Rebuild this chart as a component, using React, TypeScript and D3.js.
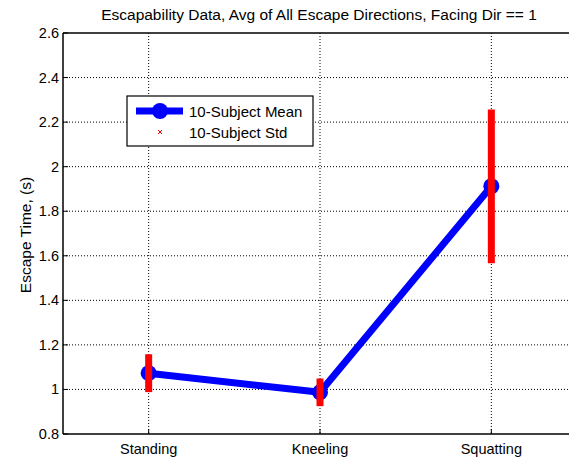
import React from "react";
import * as d3 from "d3";

const categories = ["Standing", "Kneeling", "Squatting"];
const meanValues = [1.073, 0.987, 1.912];
const stdValues = [0.085, 0.062, 0.345];
const yTicks = [0.8, 1, 1.2, 1.4, 1.6, 1.8, 2, 2.2, 2.4, 2.6];
const titleText = "Escapability Data, Avg of All Escape Directions, Facing Dir == 1";
const yLabelText = "Escape Time, (s)";
const legendLabels = ["10-Subject Mean", "10-Subject Std"];

export default function App() {
  const W = 569, H = 457;
  const left = 63, right = 577, top = 33, bottom = 434;
  const x = d3.scaleLinear().domain([0.5, 3.5]).range([left, right]);
  const y = d3.scaleLinear().domain([0.8, 2.6]).range([bottom, top]);
  const line = d3.line<number>().x((_, i) => x(i + 1)).y((d) => y(d));
  const font = "'Liberation Sans', Arial, sans-serif";
  return (
    <svg width={W} height={H} style={{ position: "absolute", left: 0, top: 0, background: "#fff" }} fontFamily={font}>
      <rect x={0} y={0} width={W} height={H} fill="#fff" />
      {/* grid */}
      {yTicks.slice(1, -1).map((t) => (
        <line key={"gy" + t} x1={left} x2={right} y1={y(t)} y2={y(t)} stroke="#000" strokeWidth={1} strokeDasharray="1,2" />
      ))}
      {categories.map((c, i) => (
        <line key={"gx" + c} x1={x(i + 1)} x2={x(i + 1)} y1={top} y2={bottom} stroke="#000" strokeWidth={1} strokeDasharray="1,2" />
      ))}
      {/* ticks */}
      {yTicks.map((t) => (
        <g key={"ty" + t}>
          <line x1={left} x2={left + 5} y1={y(t)} y2={y(t)} stroke="#000" />
          <text x={left - 4} y={y(t) + 5} fontSize={14.5} textAnchor="end">{t}</text>
        </g>
      ))}
      {categories.map((c, i) => (
        <g key={"tx" + c}>
          <line x1={x(i + 1)} x2={x(i + 1)} y1={bottom} y2={bottom - 5} stroke="#000" />
          <text x={x(i + 1)} y={bottom + 20} fontSize={14.5} textAnchor="middle">{c}</text>
        </g>
      ))}
      {/* axes box */}
      <line x1={left} x2={left} y1={top} y2={bottom} stroke="#000" strokeWidth={1.5} />
      <line x1={left} x2={right} y1={bottom} y2={bottom} stroke="#000" strokeWidth={1.5} />
      <line x1={left} x2={right} y1={top} y2={top} stroke="#000" strokeWidth={1.5} />
      {/* mean line */}
      <path d={line(meanValues) || ""} fill="none" stroke="#0000ff" strokeWidth={7} strokeLinejoin="round" />
      {meanValues.map((v, i) => (
        <circle key={"m" + i} cx={x(i + 1)} cy={y(v)} r={8} fill="#0000ff" />
      ))}
      {/* std bars */}
      {meanValues.map((v, i) => (
        <g key={"s" + i}>
          <line x1={x(i + 1)} x2={x(i + 1)} y1={y(v + stdValues[i])} y2={y(v - stdValues[i])} stroke="#ff0000" strokeWidth={7} />
          <line x1={x(i + 1) - 2} x2={x(i + 1) + 2} y1={y(v) - 2} y2={y(v) + 2} stroke="#ff0000" strokeWidth={1} />
          <line x1={x(i + 1) - 2} x2={x(i + 1) + 2} y1={y(v) + 2} y2={y(v) - 2} stroke="#ff0000" strokeWidth={1} />
        </g>
      ))}
      {/* legend */}
      <rect x={127} y={96} width={186} height={50} fill="#fff" stroke="#000" strokeWidth={1.2} />
      <line x1={136} x2={183} y1={111} y2={111} stroke="#0000ff" strokeWidth={7} />
      <circle cx={160} cy={111} r={8} fill="#0000ff" />
      <text x={189} y={117} fontSize={15}>{legendLabels[0]}</text>
      <line x1={158} x2={162} y1={130} y2={134} stroke="#ff0000" strokeWidth={1} />
      <line x1={158} x2={162} y1={134} y2={130} stroke="#ff0000" strokeWidth={1} />
      <text x={189} y={138} fontSize={15}>{legendLabels[1]}</text>
      {/* title and label */}
      <text x={319} y={20} fontSize={15.5} textAnchor="middle">{titleText}</text>
      <text transform={`translate(31,235) rotate(-90)`} fontSize={15.5} textAnchor="middle">{yLabelText}</text>
    </svg>
  );
}
